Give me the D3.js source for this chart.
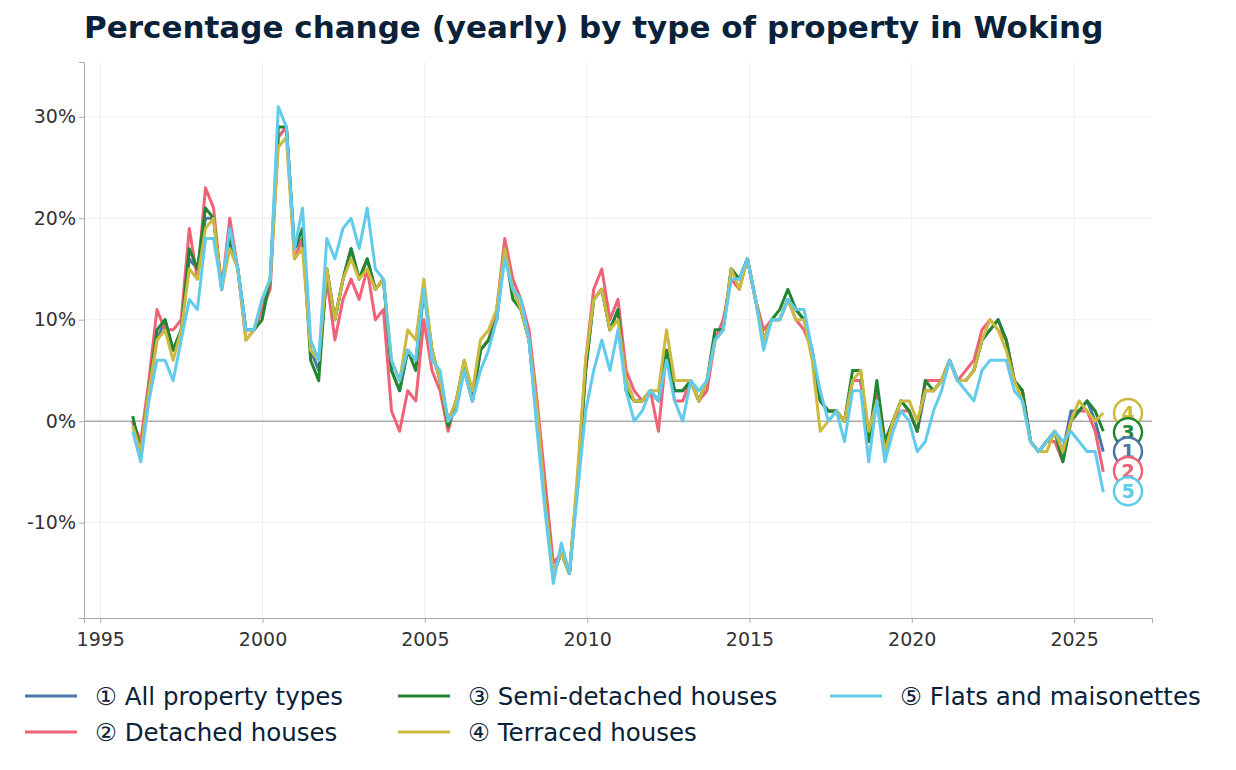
<!DOCTYPE html>
<html><head><meta charset="utf-8">
<script src="https://cdn.jsdelivr.net/npm/d3@7"></script>
<style>body{margin:0;background:#fff;font-family:"DejaVu Sans",sans-serif;}</style>
</head><body><svg id="c" width="1236" height="770"></svg>
<script>
const startYear = 1996.0, endYear = 2025.9;
const xTicks = [1995,2000,2005,2010,2015,2020,2025];
const yTicks = [-10,0,10,20,30];
const names = ["① All property types","② Detached houses","③ Semi-detached houses","④ Terraced houses","⑤ Flats and maisonettes"];
const colors = ["#4a76a8","#f06277","#208630","#ccba3f","#62cbec"];
const allProp = [0,-3,3,8, 10,7,9,16, 15,20,20,13, 18,15,9,9, 11,14,28,29, 17,18,7,5, 15,10,14,17, 14,16,13,14, 5,3,7,6, 13,7,4,0, 2,5,2,7, 8,10,17,13, 11,8,0,-8, -15,-13,-15,-6, 5,12,13,9, 11,4,2,2, 3,2,7,3, 3,4,2,4, 8,9,15,14, 16,12,8,10, 10,12,11,10, 7,2,1,1, 0,4,4,-2, 3,-3,0,2, 1,-1,3,3, 4,6,4,4, 5,8,9,10, 8,4,3,-2, -3,-2,-1,-3, 1,1,2,0, -3];
const detached = [0,-2,4,11, 9,9,10,19, 14,23,21,13, 20,15,8,9, 11,13,28,29, 16,18,7,6, 14,8,12,14, 12,15,10,11, 1,-1,3,2, 10,5,3,-1, 2,5,2,7, 8,11,18,14, 12,9,2,-6, -14,-13,-15,-6, 6,13,15,10, 12,5,3,2, 3,-1,7,2, 2,4,2,3, 8,10,14,13, 16,12,9,10, 10,12,10,9, 7,2,1,1, 0,4,4,-2, 3,-2,0,1, 1,-1,4,4, 4,6,4,5, 6,9,10,9, 8,4,3,-2, -3,-2,-2,-4, 0,1,1,-1, -5];
const semi = [0.5,-3,3,9, 10,7,9,17, 15,21,20,13, 18,15,9,9, 10,14,29,29, 17,19,6,4, 15,10,14,17, 14,16,13,14, 5,3,7,5, 13,7,4,-0.5, 2,6,2,7, 8,10,17,12, 11,8,0,-8, -15,-13,-15,-6, 5,12,13,9, 11,3,2,2, 3,2,7,3, 3,4,2,4, 9,9,15,14, 16,12,8,10, 11,13,11,10, 7,2,1,1, 0,5,5,-2, 4,-2,0,2, 1,-1,4,3, 4,6,4,4, 5,8,9,10, 8,4,3,-2, -3,-2,-1,-4, 0,1,2,1, -1];
const terraced = [-0.5,-3,3,8, 9,6,9,15, 14,19,20,13, 17,15,8,9, 12,14,27,28, 16,17,7,6, 15,10,14,16, 14,15,13,14, 6,4,9,8, 14,7,4,0, 2,6,3,8, 9,11,17,13, 11,8,1,-8, -15,-13,-15,-5, 6,12,13,9, 10,4,2,2, 3,3,9,4, 4,4,2,4, 8,9,15,13, 16,12,8,10, 10,12,10,10, 6,-1,0,1, 0,4,5,-1, 2,-3,0,2, 2,0,3,3, 4,6,4,4, 5,8,10,9, 7,4,2,-2, -3,-3,-1,-3, 0,2,1,0, 0.8];
const flats = [-1,-4,2,6, 6,4,8,12, 11,18,18,13, 19,15,9,9, 12,14,31,29, 17,21,8,6, 18,16,19,20, 17,21,15,14, 6,4,7,6, 13,6,5,0, 1,5,2,5, 7,10,16,13, 12,8,-1,-9, -16,-12,-15,-7, 1,5,8,5, 9,3,0,1, 3,2,6,2, 0,4,3,4, 8,9,14,14, 16,12,7,10, 10,12,11,11, 7,3,0,1, -2,3,3,-4, 2,-4,-1,1, 0,-3,-2,1, 3,6,4,3, 2,5,6,6, 6,3,2,-2, -3,-2,-1,-2, -1,-2,-3,-3, -7];
const series = [allProp, detached, semi, terraced, flats];
const endLabelOrder = [3,2,0,1,4];
const endLabelVals = [0.8,-1.1,-3,-4.9,-6.9];

const svg = d3.select("#c");
const L=84,R=1152,T=62,B=618;
const x = d3.scaleLinear().domain([1994.5,2027.4]).range([L,R]);
const y = d3.scaleLinear().domain([-19.4,35.4]).range([B,T]);
const step = (endYear-startYear)/(allProp.length-1);

svg.append("text").attr("x",84).attr("y",38).attr("font-size",31).attr("font-weight","bold").attr("fill","#0a2239").text("Percentage change (yearly) by type of property in Woking");

svg.append("g").selectAll("line").data(xTicks).join("line").attr("x1",d=>x(d)).attr("x2",d=>x(d)).attr("y1",T).attr("y2",B).attr("stroke","#eee");
svg.append("g").selectAll("line").data(yTicks).join("line").attr("x1",L).attr("x2",R).attr("y1",d=>y(d)).attr("y2",d=>y(d)).attr("stroke",d=>d===0?"#aaa":"#eee").attr("stroke-width",d=>d===0?1.5:1);

const xa = svg.append("g").attr("transform",`translate(0,${B})`).call(d3.axisBottom(x).tickValues(xTicks).tickFormat(d3.format("d")).tickSize(5));
const ya = svg.append("g").attr("transform",`translate(${L},0)`).call(d3.axisLeft(y).tickValues(yTicks).tickFormat(d=>d+"%").tickSize(5));
[xa,ya].forEach(a=>{a.selectAll("path,line").attr("stroke","#aaa");a.selectAll("text").attr("font-size",19).attr("fill","#333").attr("font-family","DejaVu Sans");});
xa.selectAll("text").attr("dy","1.05em");

const line = d3.line().x((d,i)=>x(startYear+i*step)).y(d=>y(d));
series.forEach((s,k)=>svg.append("path").datum(s).attr("d",line).attr("fill","none").attr("stroke",colors[k]).attr("stroke-width",3).attr("stroke-linejoin","round"));

endLabelOrder.forEach((k,j)=>{
  const g=svg.append("g").attr("transform",`translate(1128,${y(endLabelVals[j])})`);
  g.append("circle").attr("r",14).attr("fill","#fff").attr("stroke",colors[k]).attr("stroke-width",2.5);
  g.append("text").attr("text-anchor","middle").attr("dy","0.36em").attr("font-size",19).attr("font-weight","bold").attr("fill",colors[k]).text(k+1);
});

const legPos=[[25,696],[25,732],[398,696],[398,732],[830,696]];
names.forEach((n,k)=>{
  const [lx,ly]=legPos[k];
  svg.append("line").attr("x1",lx).attr("x2",lx+52).attr("y1",ly).attr("y2",ly).attr("stroke",colors[k]).attr("stroke-width",3);
  svg.append("text").attr("x",lx+70).attr("y",ly).attr("dy","0.35em").attr("font-size",24.5).attr("fill","#0a2239").text(n);
});
</script></body></html>
